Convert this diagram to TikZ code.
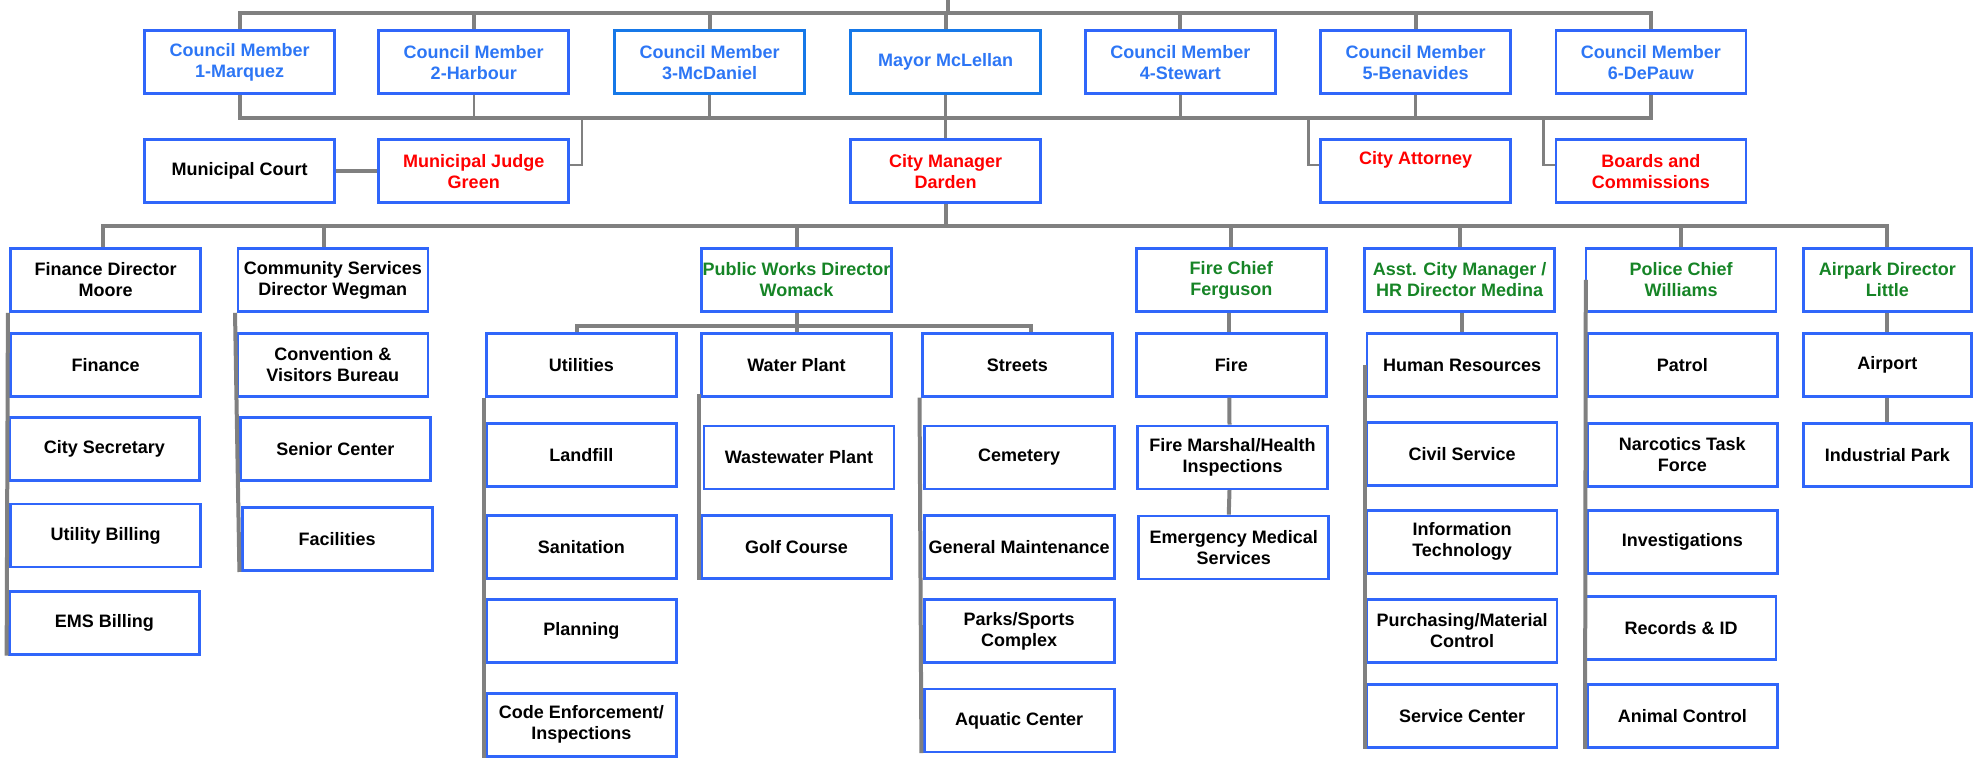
\documentclass[tikz,border=0pt]{standalone}
\usepackage{fontspec}
\setmainfont{Liberation Sans}
\usetikzlibrary{calc}
\definecolor{boxblue}{RGB}{48,102,250}
\definecolor{mayorblue}{RGB}{22,120,232}
\definecolor{textblue}{RGB}{45,118,245}
\definecolor{headgreen}{RGB}{22,132,38}
\definecolor{linegray}{RGB}{128,128,128}
\tikzset{
  orgbox/.style={draw=boxblue, line width=2.6pt, minimum width=190pt, minimum height=63pt,
    inner sep=0pt, align=center, font=\bfseries\fontsize{18}{21}\selectfont},
  council/.style={orgbox, text=textblue},
  appointed/.style={orgbox, text=red},
  director/.style={orgbox, text=headgreen},
  bus/.style={draw=linegray, line width=4pt},
  link/.style={draw=linegray, line width=2.5pt},
}

\begin{document}
\begin{tikzpicture}[x=1.2583pt, y=-1.2583pt]
    \useasboundingbox (0,0) rectangle (1568,602);

    % elected officials
    \node[council] (cmA) at (190.5,49.5) {Council Member\\1-Marquez};
    \node[council] (cmB) at (376.5,49.5) {Council Member\\2-Harbour};
    \node[council, draw=mayorblue] (cmC) at (564,49.5) {Council Member\\3-McDaniel};
    \node[council, draw=mayorblue] (mayor) at (751.5,49.5) {Mayor McLellan};
    \node[council] (cmD) at (938,49.5) {Council Member\\4-Stewart};
    \node[council] (cmE) at (1125,49.5) {Council Member\\5-Benavides};
    \node[council] (cmF) at (1312,49.5) {Council Member\\6-DePauw};

    % appointed by the council
    \node[orgbox] (court) at (190.5,136) {Municipal Court};
    \node[appointed] (judge) at (376.5,136) {Municipal Judge\\Green};
    \node[appointed] (manager) at (751.5,136) {City Manager\\Darden};
    \node[appointed] (attorney) at (1125,136) {City Attorney\\\strut};
    \node[appointed] (boards) at (1312,136) {Boards and\\Commissions};

    % department heads
    \node[orgbox] (finhead) at (84,222.5) {Finance Director\\Moore};
    \node[orgbox] (comhead) at (264.5,222.5) {Community Services\\Director Wegman};
    \node[director] (pwhead) at (633,222.5) {Public Works Director\\Womack};
    \node[director] (firehead) at (978.5,222.5) {Fire Chief\\Ferguson};
    \node[director] (asstmgr) at (1160,222.5) {Asst. City Manager /\\HR Director Medina};
    \node[director] (police) at (1336,222.5) {Police Chief\\Williams};
    \node[director, minimum width=168pt] (airpark) at (1500,222.5) {Airpark Director\\Little};

    % finance
    \node[orgbox] (finance) at (84,290) {Finance};
    \node[orgbox] (citysec) at (83,357) {City Secretary};
    \node[orgbox] (utilbill) at (84,425.5) {Utility Billing};
    \node[orgbox] (emsbill) at (83,495) {EMS Billing};

    % community services
    \node[orgbox] (convention) at (264.5,290) {Convention \&\\Visitors Bureau};
    \node[orgbox] (senior) at (266.5,357) {Senior Center};
    \node[orgbox] (facilities) at (268,428.5) {Facilities};

    % public works
    \node[orgbox] (utilities) at (462,290) {Utilities};
    \node[orgbox] (landfill) at (462,361.5) {Landfill};
    \node[orgbox] (sanitation) at (462,434.5) {Sanitation};
    \node[orgbox] (planning) at (462,501.5) {Planning};
    \node[orgbox] (codeenf) at (462,576) {Code Enforcement/\\Inspections};
    \node[orgbox] (water) at (633,290) {Water Plant};
    \node[orgbox] (wastewater) at (635,363.5) {Wastewater Plant};
    \node[orgbox] (golf) at (633,434.5) {Golf Course};
    \node[orgbox] (streets) at (808.5,290) {Streets};
    \node[orgbox] (cemetery) at (810,363.5) {Cemetery};
    \node[orgbox] (genmaint) at (810,434.5) {General Maintenance};
    \node[orgbox] (parks) at (810,501.5) {Parks/Sports\\Complex};
    \node[orgbox] (aquatic) at (810,572.5) {Aquatic Center};

    % fire
    \node[orgbox] (fire) at (978.5,290) {Fire};
    \node[orgbox] (marshal) at (979.5,363.5) {Fire Marshal/Health\\Inspections};
    \node[orgbox] (emsvc) at (980.5,435) {Emergency Medical\\Services};

    % assistant city manager
    \node[orgbox] (hr) at (1162,290) {Human Resources};
    \node[orgbox] (civil) at (1162,361) {Civil Service};
    \node[orgbox] (infotech) at (1162,430.5) {Information\\Technology};
    \node[orgbox] (purchasing) at (1162,501.5) {Purchasing/Material\\Control};
    \node[orgbox] (svccenter) at (1162,569) {Service Center};

    % police
    \node[orgbox] (patrol) at (1337,290) {Patrol};
    \node[orgbox] (narcotics) at (1337,361.5) {Narcotics Task\\Force};
    \node[orgbox] (investig) at (1337,430.5) {Investigations};
    \node[orgbox] (records) at (1336,499) {Records \& ID};
    \node[orgbox] (animal) at (1337,569) {Animal Control};

    % airpark
    \node[orgbox, minimum width=168pt] (airport) at (1500,290) {Airport};
    \node[orgbox, minimum width=168pt] (indpark) at (1500,361.5) {Industrial Park};

    % council lines
    \coordinate (apex) at (753,0);
    \coordinate (top) at (753,10);
    \coordinate (council) at (753,94);
    \draw[bus] (apex) -- (top);
    \draw[bus] (cmA.north) |- (top) -| (cmF.north);
    \foreach \n in {cmB,cmC,mayor,cmD,cmE}
        \draw[bus] (\n.north) -- (\n.north |- top);
    \draw[bus] (cmA.south) |- (council) -| (cmF.south);
    \foreach \n in {cmB,cmC,mayor,cmD,cmE}
        \draw[link] (\n.south) -- (\n.south |- council);
    \draw[link] (manager.north) -- (manager.north |- council);
    \draw[link] ([yshift=6pt]judge.east) -| ([xshift=12pt]judge.east |- council);
    \draw[link] ([yshift=6pt]attorney.west) -| ([xshift=-11pt]attorney.west |- council);
    \draw[link] ([yshift=6pt]boards.west) -| ([xshift=-11pt]boards.west |- council);
    \draw[bus] (court.east) -- (judge.west);

    % departments
    \coordinate (dept) at (752,180);
    \draw[bus] (manager.south) -- (manager.south |- dept);
    \draw[bus] ([xshift=-2.5pt]finhead.north) |- (dept) -| (airpark.north);
    \draw[bus] ([xshift=-8.5pt]comhead.north) -- ([xshift=-8.5pt]comhead.north |- dept);
    \foreach \n in {pwhead,firehead,asstmgr,police}
        \draw[bus] (\n.north) -- (\n.north |- dept);

    % columns
    \draw[bus] ([xshift=-1.5pt]finhead.south west) -- ([xshift=-1.5pt]emsbill.south west);
    \draw[bus] ([xshift=-1.5pt]comhead.south west) -- ([xshift=-1.5pt]facilities.south west);

    \coordinate (pwbus) at (633,259);
    \draw[bus] (pwhead.south) -- (water.north);
    \draw[bus] ([xshift=-4pt]utilities.north) |- (pwbus) -| ([xshift=14pt]streets.north);
    \draw[bus] ([xshift=-1.5pt]utilities.south west) -- ([xshift=-1.5pt]codeenf.south west);
    \draw[bus] ([xshift=-1.5pt,yshift=4pt]water.south west) -- ([xshift=-1.5pt]golf.south west);
    \draw[bus] ([xshift=-1.5pt]streets.south west) -- ([xshift=-1.5pt]aquatic.south west);

    \draw[bus] ([xshift=-2pt]firehead.south) -- ([xshift=-2pt]fire.north);
    \draw[bus] ([xshift=-2pt]fire.south) -- ([xshift=-3pt]marshal.north);
    \draw[bus] ([xshift=-3pt]marshal.south) -- ([xshift=-5pt]emsvc.north);

    \draw[bus] (hr.north |- asstmgr.south) -- (hr.north);
    \draw[bus] ([xshift=-1pt]hr.west) -- ([xshift=-1pt]svccenter.south west);

    \draw[bus] ([xshift=1pt]police.west) -- ([xshift=-1pt]animal.south west);

    \draw[bus] (airpark.south) -- (airport.north);
    \draw[bus] (airport.south) -- (indpark.north);
\end{tikzpicture}
\end{document}
